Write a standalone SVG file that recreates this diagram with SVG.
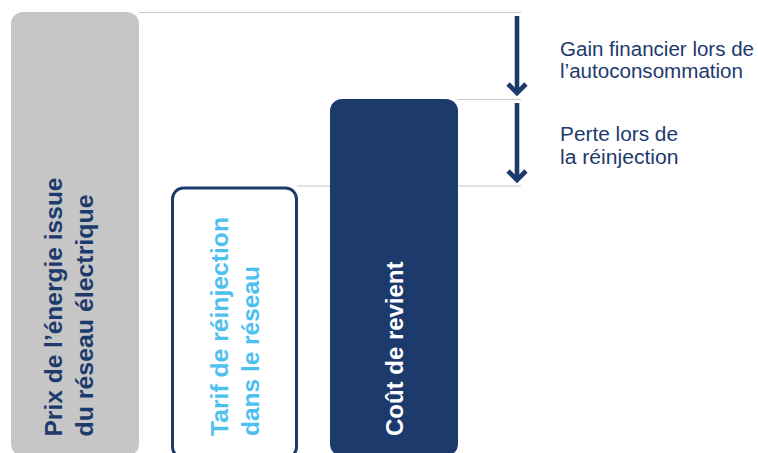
<svg xmlns="http://www.w3.org/2000/svg" width="758" height="453" viewBox="0 0 758 453">
  <style>
    .guide { stroke: #c8c8c8; stroke-width: 1.2; fill: none; }
    .arrow { stroke: #1d3a6d; stroke-width: 4.6; fill: none; }
    .vlabel { font-family: "Liberation Sans", Arial, sans-serif; font-size: 24px; font-weight: bold; }
    .side { font-family: "Liberation Sans", Arial, sans-serif; font-size: 20px; fill: #1d3a6d; }
  </style>
  <rect width="758" height="453" fill="#ffffff"/>

  <g id="connectors">
    <line class="guide" x1="139" y1="12.5" x2="521" y2="12.5"/>
    <line class="guide" x1="458" y1="99.5" x2="521" y2="99.5"/>
    <line class="guide" x1="297" y1="186" x2="521" y2="186"/>
    <g id="arrow-gain">
      <line class="arrow" x1="517" y1="16" x2="517" y2="93"/>
      <polyline class="arrow" points="508,84 517,93 526,84"/>
    </g>
    <g id="arrow-perte">
      <line class="arrow" x1="517" y1="103" x2="517" y2="180"/>
      <polyline class="arrow" points="508,171 517,180 526,171"/>
    </g>
  </g>

  <g id="bar-prix">
    <rect x="11" y="12" width="128" height="444" rx="12" fill="#c6c6c6"/>
    <text class="vlabel" fill="#1d3a6d" transform="translate(61.5,436.5) rotate(-90)" textLength="259" lengthAdjust="spacingAndGlyphs">Prix de l’énergie issue</text>
    <text class="vlabel" fill="#1d3a6d" transform="translate(93.3,436.5) rotate(-90)" textLength="242" lengthAdjust="spacingAndGlyphs">du réseau électrique</text>
  </g>

  <g id="bar-tarif">
    <rect x="172.5" y="188" width="124" height="270" rx="11" fill="#ffffff" stroke="#1d3a6d" stroke-width="3"/>
    <text class="vlabel" fill="#4dc0ef" transform="translate(228.3,436) rotate(-90)" textLength="219" lengthAdjust="spacingAndGlyphs">Tarif de réinjection</text>
    <text class="vlabel" fill="#4dc0ef" transform="translate(259,436) rotate(-90)" textLength="170" lengthAdjust="spacingAndGlyphs">dans le réseau</text>
  </g>

  <g id="bar-cout">
    <rect x="330" y="99" width="128" height="357" rx="12" fill="#1d3a6d"/>
    <text class="vlabel" fill="#ffffff" transform="translate(403.3,436) rotate(-90)" textLength="174.5" lengthAdjust="spacingAndGlyphs">Coût de revient</text>
  </g>

  <g id="label-gain">
    <text class="side" x="560" y="55.5" textLength="194" lengthAdjust="spacingAndGlyphs">Gain financier lors de</text>
    <text class="side" x="560" y="77.5" textLength="183" lengthAdjust="spacingAndGlyphs">l’autoconsommation</text>
  </g>

  <g id="label-perte">
    <text class="side" x="560" y="141" textLength="118" lengthAdjust="spacingAndGlyphs">Perte lors de</text>
    <text class="side" x="560" y="164" textLength="118.5" lengthAdjust="spacingAndGlyphs">la réinjection</text>
  </g>
</svg>
